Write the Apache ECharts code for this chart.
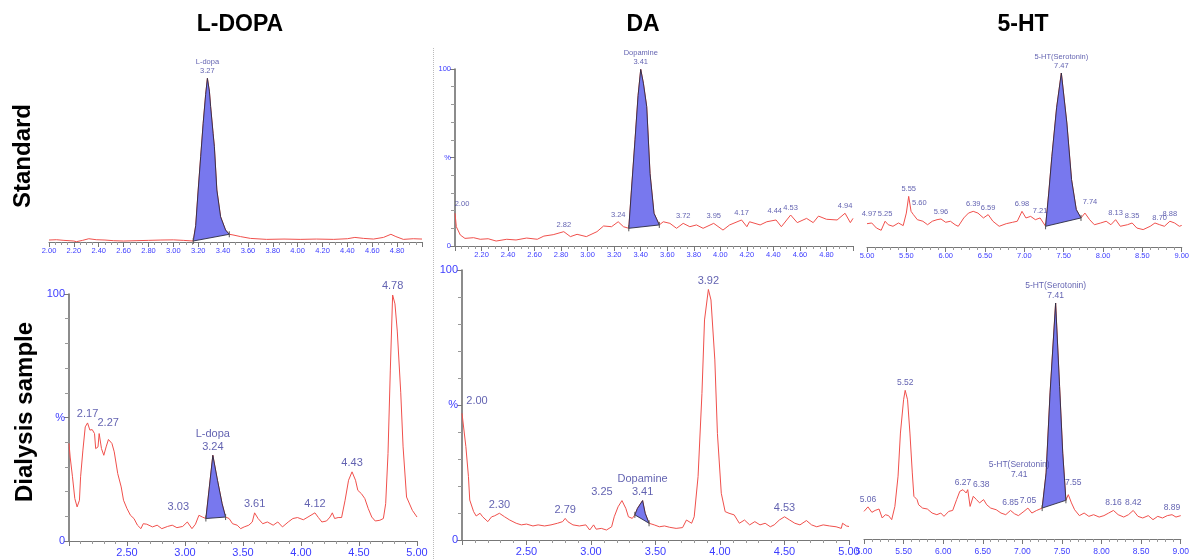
<!DOCTYPE html>
<html>
<head>
<meta charset="utf-8">
<script src="https://cdn.jsdelivr.net/npm/echarts@6/dist/echarts.min.js"></script>
<style>
html,body{margin:0;padding:0;background:#fff;}
#chart{width:1192px;height:559px;}
</style>
</head>
<body>
<div id="chart"></div>
<script>
// ---------------- DATA ----------------
const columnTitles = ['L-DOPA', 'DA', '5-HT'];
const rowTitles = ['Standard', 'Dialysis sample'];

// Standard, L-DOPA (retention time min, % intensity)
const ldopaStd = [[2.00,1.2],[2.06,1.4],[2.12,1.0],[2.20,0.6],[2.22,0.2],[2.27,1.0],[2.32,2.0],[2.38,1.4],[2.45,1.2],[2.52,0.8],[2.60,0.6],[2.70,0.8],[2.80,1.0],[2.90,1.2],[3.00,1.3],[3.08,1.0],[3.16,0.6],[3.18,10],[3.20,31.7],[3.22,52],[3.24,72.4],[3.26,90],[3.274,99.8],[3.29,92],[3.30,82.5],[3.32,66],[3.33,58.1],[3.35,31.7],[3.38,15.4],[3.42,7.3],[3.45,4.7],[3.48,4.3],[3.54,3.3],[3.62,2.2],[3.75,1.6],[3.89,1.8],[4.02,1.6],[4.15,1.8],[4.29,1.6],[4.40,2.0],[4.46,2.8],[4.53,2.2],[4.61,1.8],[4.69,2.8],[4.75,4.7],[4.79,3.3],[4.85,1.6],[4.93,2.0],[5.00,1.8]];
const ldopaStdPeak = [3.16, 3.45];
const ldopaStdLabels = [[3.274,99.8,'L-dopa\n3.27']];

// Standard, DA
const daStd = [[2.00,18.5],[2.01,10.9],[2.04,6.2],[2.075,4.3],[2.14,4.7],[2.19,3.8],[2.25,4.1],[2.31,2.8],[2.39,3.8],[2.46,3.4],[2.54,4.5],[2.62,3.8],[2.67,5.6],[2.74,6.4],[2.82,8.1],[2.87,5.3],[2.92,6.6],[2.99,5.3],[3.07,8.1],[3.12,11.3],[3.18,10.9],[3.23,13.7],[3.27,10.9],[3.31,10.0],[3.33,31.6],[3.357,60],[3.38,85],[3.40,99.8],[3.42,92],[3.445,78.7],[3.47,41],[3.50,18.5],[3.54,11.9],[3.57,13.7],[3.62,12.8],[3.67,10.0],[3.72,12.8],[3.77,10.9],[3.82,11.9],[3.87,10.0],[3.95,12.8],[4.02,9.0],[4.07,11.9],[4.16,14.7],[4.20,10.9],[4.22,13.7],[4.30,11.9],[4.35,13.7],[4.42,14.7],[4.46,10.9],[4.53,17.5],[4.58,13.2],[4.65,15.6],[4.70,13.2],[4.74,16.9],[4.80,15.1],[4.88,14.7],[4.94,18.5],[4.98,13.2],[5.00,15.6]];
const daStdPeak = [3.31, 3.54];
const daStdLabels = [[2.00,18.5,'2.00'],[2.82,8.1,'2.82'],[3.23,13.7,'3.24'],[3.40,99.8,'Dopamine\n3.41'],[3.72,12.8,'3.72'],[3.95,12.8,'3.95'],[4.16,14.7,'4.17'],[4.44,14.7,'4.44'],[4.53,17.5,'4.53'],[4.94,18.5,'4.94']];

// Standard, 5-HT
const htStd = [[5.00,13.4],[5.06,13.8],[5.12,10.9],[5.18,9.6],[5.23,14.8],[5.27,12.8],[5.33,11.9],[5.40,13.8],[5.46,12.3],[5.50,19.5],[5.53,29.1],[5.56,20.5],[5.59,18.6],[5.64,15.7],[5.71,14.8],[5.77,12.8],[5.83,14.8],[5.89,15.7],[5.94,16.1],[6.00,14.2],[6.06,14.8],[6.12,12.8],[6.16,11.9],[6.23,16.7],[6.29,19.5],[6.35,20.5],[6.41,19.5],[6.48,16.7],[6.54,18.6],[6.60,14.8],[6.68,11.9],[6.77,13.4],[6.85,14.2],[6.91,14.8],[6.97,20.5],[7.02,16.7],[7.08,17.6],[7.14,15.7],[7.20,16.7],[7.27,11.9],[7.31,31],[7.35,52.1],[7.41,80],[7.47,100],[7.54,71.3],[7.60,38.7],[7.66,21.5],[7.72,16.7],[7.77,19.5],[7.83,15.7],[7.89,12.8],[7.97,13.8],[8.04,14.8],[8.10,12.8],[8.16,15.7],[8.22,11.9],[8.31,12.8],[8.37,13.8],[8.43,10.9],[8.51,10.0],[8.60,11.9],[8.66,13.8],[8.72,12.8],[8.78,11.9],[8.85,14.8],[8.91,13.8],[8.97,11.9],[9.00,12.4]];
const htStdPeak = [7.27, 7.72];
const htStdLabels = [[5.00,13.4,'4.97'],[5.23,14.8,'5.25'],[5.53,29.1,'5.55'],[5.59,18.6,'5.60'],[5.94,16.1,'5.96'],[6.35,20.5,'6.39'],[6.54,18.6,'6.59'],[6.97,20.5,'6.98'],[7.20,16.7,'7.21'],[7.47,100,'5-HT(Serotonin)\n7.47'],[7.77,19.5,'7.74'],[8.16,15.7,'8.13'],[8.37,13.8,'8.35'],[8.72,12.8,'8.70'],[8.85,14.8,'8.88']];

// Dialysis sample, L-DOPA
const ldopaDia = [[2.00,39.5],[2.01,34],[2.03,26],[2.05,17.2],[2.07,13.8],[2.09,16.5],[2.10,26],[2.12,36.8],[2.14,46.2],[2.16,47.8],[2.18,44.9],[2.20,45.1],[2.22,43.5],[2.23,37.4],[2.25,38.1],[2.26,43.5],[2.28,37.4],[2.30,34.7],[2.32,38.1],[2.34,41.1],[2.37,39.5],[2.39,36.1],[2.42,27.3],[2.45,21.9],[2.47,16.5],[2.50,13.1],[2.53,10.4],[2.56,9.1],[2.59,6.4],[2.62,5.0],[2.64,7.0],[2.67,6.8],[2.72,5.7],[2.76,6.4],[2.80,5.0],[2.85,5.9],[2.89,6.4],[2.93,5.4],[2.98,5.9],[3.02,7.7],[3.06,5.0],[3.09,6.8],[3.12,10.4],[3.15,9.7],[3.18,9.1],[3.21,21.9],[3.24,34.7],[3.28,24.6],[3.32,15.1],[3.35,9.7],[3.38,9.1],[3.41,7.0],[3.45,6.4],[3.48,5.0],[3.51,5.7],[3.55,6.4],[3.58,7.7],[3.60,11.4],[3.63,9.1],[3.67,7.0],[3.71,7.7],[3.76,6.4],[3.80,7.7],[3.84,5.7],[3.89,7.7],[3.93,9.1],[3.97,9.5],[4.02,8.6],[4.06,9.7],[4.12,11.4],[4.15,9.5],[4.18,7.7],[4.22,8.1],[4.25,9.7],[4.27,11.4],[4.29,9.1],[4.32,9.5],[4.35,9.5],[4.38,16.5],[4.41,24.6],[4.44,28],[4.47,24.6],[4.49,20.5],[4.52,19.2],[4.55,17.2],[4.58,13.1],[4.61,9.7],[4.64,8.1],[4.68,8.4],[4.71,9.1],[4.73,15.1],[4.75,35.4],[4.77,69.2],[4.79,99.6],[4.81,96],[4.83,85],[4.86,60],[4.88,38.1],[4.91,17.8],[4.96,12.4],[5.00,9.7]];
const ldopaDiaPeak = [3.18, 3.35];
const ldopaDiaLabels = [[2.16,47.8,'2.17'],[2.26,43.5,'2.27'],[3.02,7.7,'3.03'],[3.24,34.7,'L-dopa\n3.24'],[3.60,11.4,'3.61'],[4.12,11.4,'4.12'],[4.44,28,'4.43'],[4.79,99.6,'4.78']];

// Dialysis sample, DA
const daDia = [[2.00,46.9],[2.03,34.6],[2.05,23.5],[2.06,14.8],[2.09,10.5],[2.11,8.9],[2.14,9.9],[2.16,8.6],[2.20,6.8],[2.23,8.6],[2.25,8.9],[2.29,9.9],[2.33,8.6],[2.37,7.4],[2.42,6.2],[2.46,5.6],[2.50,5.9],[2.55,5.2],[2.59,5.6],[2.64,5.2],[2.69,5.6],[2.74,6.2],[2.78,6.8],[2.80,8.0],[2.82,6.8],[2.86,5.6],[2.91,5.2],[2.96,5.6],[2.99,3.7],[3.02,5.6],[3.04,4.0],[3.08,4.3],[3.12,3.7],[3.16,4.9],[3.18,8.6],[3.21,12.3],[3.24,14.6],[3.27,11.7],[3.29,8.6],[3.32,8.0],[3.34,9.3],[3.36,11.7],[3.40,14.6],[3.42,9.9],[3.45,6.2],[3.49,5.6],[3.53,4.9],[3.57,5.2],[3.61,4.7],[3.66,4.3],[3.71,4.6],[3.74,7.4],[3.78,6.2],[3.80,8.6],[3.83,23.5],[3.86,54.3],[3.88,81.5],[3.91,92.8],[3.93,88.9],[3.96,66.7],[3.98,39.5],[4.01,17.3],[4.04,10.5],[4.07,9.9],[4.11,9.3],[4.15,6.2],[4.19,7.4],[4.23,5.6],[4.27,6.8],[4.31,5.6],[4.35,6.2],[4.39,4.9],[4.42,5.6],[4.46,7.4],[4.50,8.6],[4.54,7.4],[4.58,6.2],[4.62,5.6],[4.67,7.2],[4.71,5.6],[4.75,4.9],[4.80,5.6],[4.85,5.2],[4.90,4.9],[4.94,4.3],[4.95,6.2],[4.98,5.2],[5.00,5.0]];
const daDiaPeak = [3.34, 3.45];
const daDiaLabels = [[2.00,46.9,'2.00'],[2.29,9.9,'2.30'],[2.80,8.0,'2.79'],[3.24,14.6,'3.25'],[3.40,14.6,'Dopamine\n3.41'],[3.91,92.8,'3.92'],[4.50,8.6,'4.53']];

// Dialysis sample, 5-HT
const htDia = [[5.00,11.7],[5.05,13.6],[5.10,11.3],[5.14,12.1],[5.19,12.7],[5.23,8.9],[5.27,10.3],[5.31,9.9],[5.35,8.2],[5.39,13.8],[5.43,26.6],[5.46,44.9],[5.50,59],[5.52,63],[5.55,59],[5.58,44.9],[5.61,28],[5.63,18.1],[5.67,16.7],[5.69,14.5],[5.74,13.1],[5.80,12.7],[5.86,11.0],[5.92,10.3],[5.97,11.0],[6.01,9.6],[6.07,11.7],[6.12,12.1],[6.17,16.7],[6.21,20.2],[6.25,20.9],[6.29,19.5],[6.31,20.9],[6.34,13.8],[6.38,18.1],[6.42,16.7],[6.46,15.3],[6.51,16.7],[6.55,14.5],[6.60,13.1],[6.67,12.4],[6.73,11.0],[6.79,10.3],[6.85,12.1],[6.90,10.7],[6.95,9.9],[7.02,11.7],[7.07,13.1],[7.12,11.0],[7.18,12.1],[7.25,13.1],[7.30,28],[7.35,61.9],[7.42,100],[7.47,64.7],[7.51,36.4],[7.55,16.4],[7.58,18.8],[7.62,15.3],[7.66,12.4],[7.72,9.9],[7.78,11.0],[7.84,9.6],[7.90,10.3],[7.97,9.3],[8.03,9.9],[8.09,11.0],[8.15,12.1],[8.21,10.3],[8.28,9.3],[8.34,10.3],[8.40,12.1],[8.46,9.6],[8.52,8.9],[8.59,9.9],[8.65,8.2],[8.71,9.6],[8.77,8.9],[8.83,9.9],[8.89,10.3],[8.94,9.3],[9.00,9.9]];
const htDiaPeak = [7.25, 7.55];
const htDiaLabels = [[5.05,13.6,'5.06'],[5.52,63,'5.52'],[6.25,20.9,'6.27'],[6.38,18.1,'6.38'],[6.85,12.1,'6.85'],[7.07,13.1,'7.05'],[7.25,13.1,'5-HT(Serotonin)\n7.41'],[7.42,100,'5-HT(Serotonin)\n7.41'],[7.58,18.8,'7.55'],[8.15,12.1,'8.16'],[8.40,12.1,'8.42'],[8.89,10.3,'8.89']];

// ---------------- STYLE / LAYOUT ----------------
const FONT = 'Liberation Sans, Arial, sans-serif';
const TRACE = '#f0504c';
const FILL = '#7878ee';
const TICKLABEL = '#3c3cff';
const PEAKLABEL = '#3a3a9c';

const panels = [
  {grid:{left:49,top:78,width:373,height:164}, xr:[2,5,0.2], minor:4, yShow:false, tf:7.5, lf:7.5, lm:5, showMin:true, showMax:false,
   data:ldopaStd, peak:ldopaStdPeak, labels:ldopaStdLabels, offs:{}},
  {grid:{left:455,top:69,width:398,height:177}, xr:[2,5,0.2], minor:4, yShow:true, tf:7.5, lf:7.5, lm:5, showMin:false, showMax:false,
   data:daStd, peak:daStdPeak, labels:daStdLabels, offs:{'2.00':[7,-2],'4.44':[-4,-2]}},
  {grid:{left:867,top:73,width:320,height:174}, xr:[5,9,0.5], minor:5, yShow:false, tf:7.5, lf:7.5, lm:5, showMin:true, showMax:true,
   data:htStd, peak:htStdPeak, labels:htStdLabels, offs:{'4.97':[2,-3],'5.60':[6,-5],'7.74':[5,-4]}},
  {grid:{left:69,top:294,width:348,height:247}, xr:[2,5,0.5], minor:5, yShow:true, tf:11, lf:11, lm:6, showMin:false, showMax:true,
   data:ldopaDia, peak:ldopaDiaPeak, labels:ldopaDiaLabels, offs:{'2.27':[9,-2],'3.03':[-9,-6]}},
  {grid:{left:462,top:270,width:387,height:270}, xr:[2,5,0.5], minor:5, yShow:true, tf:11, lf:11, lm:6, showMin:false, showMax:true,
   data:daDia, peak:daDiaPeak, labels:daDiaLabels, offs:{'2.00':[15,-4],'3.25':[-20,0]}},
  {grid:{left:864,top:303,width:323,height:236}, xr:[5,9,0.5], minor:5, yShow:false, tf:8.5, lf:8.5, lm:8, showMin:true, showMax:true,
   data:htDia, peak:htDiaPeak, labels:htDiaLabels, offs:{'6.38':[8,-4],'7.55':[5,-4],'#6':[-23,-26]}}
];

const grid = [], xAxis = [], yAxis = [], series = [];
panels.forEach((p, i) => {
  grid.push(Object.assign({containLabel:false}, p.grid));
  xAxis.push({
    type:'value', gridIndex:i, min:p.xr[0], max:p.xr[1], interval:p.xr[2],
    axisLine:{show:true, onZero:false, lineStyle:{color:'#777', width:1.2}},
    axisTick:{show:true, length:5, lineStyle:{color:'#777'}},
    minorTick:{show:true, splitNumber:p.minor, length:3, lineStyle:{color:'#999'}},
    splitLine:{show:false},
    axisLabel:{color:TICKLABEL, fontSize:p.tf, fontFamily:FONT, margin:p.lm, showMinLabel:p.showMin, showMaxLabel:p.showMax,
      formatter: v => v.toFixed(2)}
  });
  yAxis.push(p.yShow ? {
    type:'value', gridIndex:i, min:0, max:100, interval:50,
    axisLine:{show:true, lineStyle:{color:'#666', width:1.5}},
    axisTick:{show:true, length:5, lineStyle:{color:'#777'}},
    minorTick:{show:true, splitNumber:5, length:4, lineStyle:{color:'#999'}},
    splitLine:{show:false},
    axisLabel:{color:TICKLABEL, fontSize:p.tf, fontFamily:FONT, margin:4,
      formatter: v => v === 100 ? '100' : (v === 50 ? '%' : (v === 0 ? '0' : ''))}
  } : {type:'value', gridIndex:i, min:0, max:100, show:false});

  series.push({
    type:'line', xAxisIndex:i, yAxisIndex:i, data:p.data, showSymbol:false, smooth:false,
    lineStyle:{color:TRACE, width:1}, z:2, silent:true
  });
  const trace = p.data, rng = p.peak;
  series.push({
    type:'custom', xAxisIndex:i, yAxisIndex:i, data:[[rng[0], 0]], z:3, silent:true,
    renderItem: (params, api) => {
      const pts = trace.filter(d => d[0] >= rng[0] - 1e-9 && d[0] <= rng[1] + 1e-9).map(d => api.coord(d));
      const a = pts[0], b = pts[pts.length - 1];
      return {type:'group', children:[
        {type:'polygon', shape:{points:pts}, style:{fill:FILL, stroke:'#2a2a40', lineWidth:0.9}},
        {type:'line', shape:{x1:a[0], y1:a[1]-3, x2:a[0], y2:a[1]+3}, style:{stroke:'#555', lineWidth:1}},
        {type:'line', shape:{x1:b[0], y1:b[1]-3, x2:b[0], y2:b[1]+3}, style:{stroke:'#555', lineWidth:1}}
      ]};
    }
  });
  series.push({
    type:'scatter', xAxisIndex:i, yAxisIndex:i, symbolSize:1, itemStyle:{color:'rgba(0,0,0,0)'}, z:4, silent:true,
    data: p.labels.map((l, k) => {
      const off = p.offs['#' + k] || p.offs[l[2]] || [0, 0];
      return {value:[l[0], l[1]], name:l[2], label:{offset:off}};
    }),
    label:{show:true, position:'top', distance:2, formatter: d => d.name,
      color:PEAKLABEL, fontSize:p.lf, fontFamily:FONT, lineHeight:p.lf + 1.5, align:'center'}
  });
});

const graphic = [
  {type:'text', x:240, y:25, style:{text:columnTitles[0], font:'bold 23px ' + FONT, fill:'#000', textAlign:'center', textVerticalAlign:'middle'}},
  {type:'text', x:643, y:25, style:{text:columnTitles[1], font:'bold 23px ' + FONT, fill:'#000', textAlign:'center', textVerticalAlign:'middle'}},
  {type:'text', x:1023, y:25, style:{text:columnTitles[2], font:'bold 23px ' + FONT, fill:'#000', textAlign:'center', textVerticalAlign:'middle'}},
  {type:'text', x:23, y:156, rotation:Math.PI/2, style:{text:rowTitles[0], font:'bold 24px ' + FONT, fill:'#000', textAlign:'center', textVerticalAlign:'middle'}},
  {type:'text', x:25, y:412, rotation:Math.PI/2, style:{text:rowTitles[1], font:'bold 24px ' + FONT, fill:'#000', textAlign:'center', textVerticalAlign:'middle'}},
  {type:'line', shape:{x1:433.5, y1:48, x2:433.5, y2:559}, style:{stroke:'#bbb', lineWidth:1, lineDash:[1,1]}}
];

const chart = echarts.init(document.getElementById('chart'), null, {renderer:'canvas'});
chart.setOption({animation:false, backgroundColor:'#fff', grid, xAxis, yAxis, series, graphic});
</script>
</body>
</html>
